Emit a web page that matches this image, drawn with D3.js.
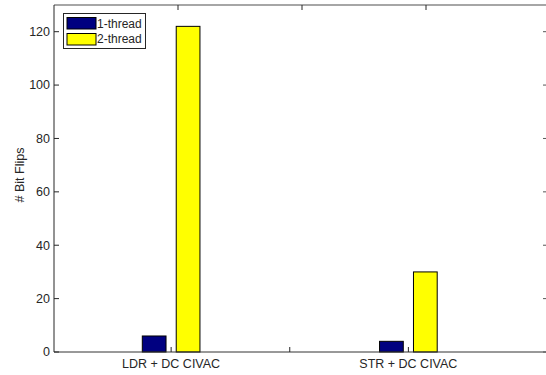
<!DOCTYPE html>
<html>
<head>
<meta charset="utf-8">
<script src="https://cdn.jsdelivr.net/npm/d3@7"></script>
<style>
  body { margin: 0; background: #fff; }
  svg text { font-family: "Liberation Sans", Arial, sans-serif; fill: #262626; }
</style>
</head>
<body>
<div class="chart"></div>
<script>
// categories (middle group has no label and zero values)
var categories = ["LDR + DC CIVAC", "", "STR + DC CIVAC"];
var seriesNames = ["1-thread", "2-thread"];
var oneThread = [6, 0, 4];
var twoThread = [122, 0, 30];
var yTicks = [0, 20, 40, 60, 80, 100, 120];
var colors = ["#000080", "#ffff00"];

var width = 546, height = 375;
var plotLeft = 54, plotRight = 546, plotTop = 5, plotBottom = 352;

var svg = d3.select("div.chart").append("svg")
    .attr("width", width)
    .attr("height", height);

var x = d3.scaleLinear().domain([0, 4]).range([52.5, 527]);
var xTop = d3.scaleLinear().domain([0, 4]).range([plotLeft, 550]);
var y = d3.scaleLinear().domain([0, 130]).range([plotBottom, plotTop]);

var barW = 0.2, offset = 0.143;

var data = categories.map(function (c, i) {
    return {i: i + 1, vals: [oneThread[i], twoThread[i]]};
});

// bars
data.forEach(function (d) {
    d.vals.forEach(function (v, s) {
        var cx = x(d.i + (s === 0 ? -offset : offset));
        var w = x(barW) - x(0);
        svg.append("rect")
            .attr("x", cx - w / 2)
            .attr("y", y(v))
            .attr("width", w)
            .attr("height", y(0) - y(v))
            .attr("fill", colors[s])
            .attr("stroke", v === 0 ? (s === 0 ? "#000040" : "#505000") : "#000")
            .attr("stroke-width", 1);
    });
});

// axis lines
svg.append("line")
    .attr("x1", plotLeft).attr("x2", plotRight)
    .attr("y1", plotTop).attr("y2", plotTop)
    .attr("stroke", "#888").attr("stroke-width", 1.5);
svg.append("line")
    .attr("x1", plotLeft).attr("x2", plotRight)
    .attr("y1", plotBottom).attr("y2", plotBottom)
    .attr("stroke", "#333").attr("stroke-width", 1);
svg.append("line")
    .attr("x1", plotLeft).attr("x2", plotLeft)
    .attr("y1", plotTop).attr("y2", plotBottom)
    .attr("stroke", "#262626").attr("stroke-width", 1);

// y ticks & labels
yTicks.forEach(function (t) {
    svg.append("line")
        .attr("x1", plotLeft).attr("x2", plotLeft + 5)
        .attr("y1", y(t)).attr("y2", y(t))
        .attr("stroke", "#262626");
    svg.append("line")
        .attr("x1", plotRight - 3).attr("x2", plotRight)
        .attr("y1", y(t)).attr("y2", y(t))
        .attr("stroke", "#555");
    svg.append("text")
        .attr("x", plotLeft - 4)
        .attr("y", y(t))
        .attr("dy", "0.35em")
        .attr("text-anchor", "end")
        .style("font-size", "12.5px")
        .text(t);
});

// x ticks & labels
categories.forEach(function (c, i) {
    svg.append("line")
        .attr("x1", x(i + 1)).attr("x2", x(i + 1))
        .attr("y1", plotBottom).attr("y2", plotBottom - 5)
        .attr("stroke", "#262626");
    svg.append("line")
        .attr("x1", xTop(i + 1)).attr("x2", xTop(i + 1))
        .attr("y1", plotTop).attr("y2", plotTop + 5)
        .attr("stroke", "#262626");
    svg.append("text")
        .attr("x", x(i + 1))
        .attr("y", plotBottom + 16)
        .attr("text-anchor", "middle")
        .style("font-size", "12.5px")
        .text(c);
});

// y label
svg.append("text")
    .attr("transform", "translate(23.5,175) rotate(-90)")
    .attr("text-anchor", "middle")
    .style("font-size", "12.5px")
    .text("# Bit Flips");

// legend
var lg = svg.append("g").attr("transform", "translate(63.5,13.5)");
lg.append("rect")
    .attr("width", 82).attr("height", 35)
    .attr("fill", "#fff").attr("stroke", "#262626");
seriesNames.forEach(function (n, s) {
    lg.append("rect")
        .attr("x", 3.5).attr("y", 4 + s * 16)
        .attr("width", 29).attr("height", 11.5)
        .attr("fill", colors[s]).attr("stroke", "#000");
    lg.append("text")
        .attr("x", 33.5).attr("y", 10 + s * 15.5)
        .attr("dy", "0.35em")
        .style("font-size", "12px")
        .text(n);
});
</script>
</body>
</html>
